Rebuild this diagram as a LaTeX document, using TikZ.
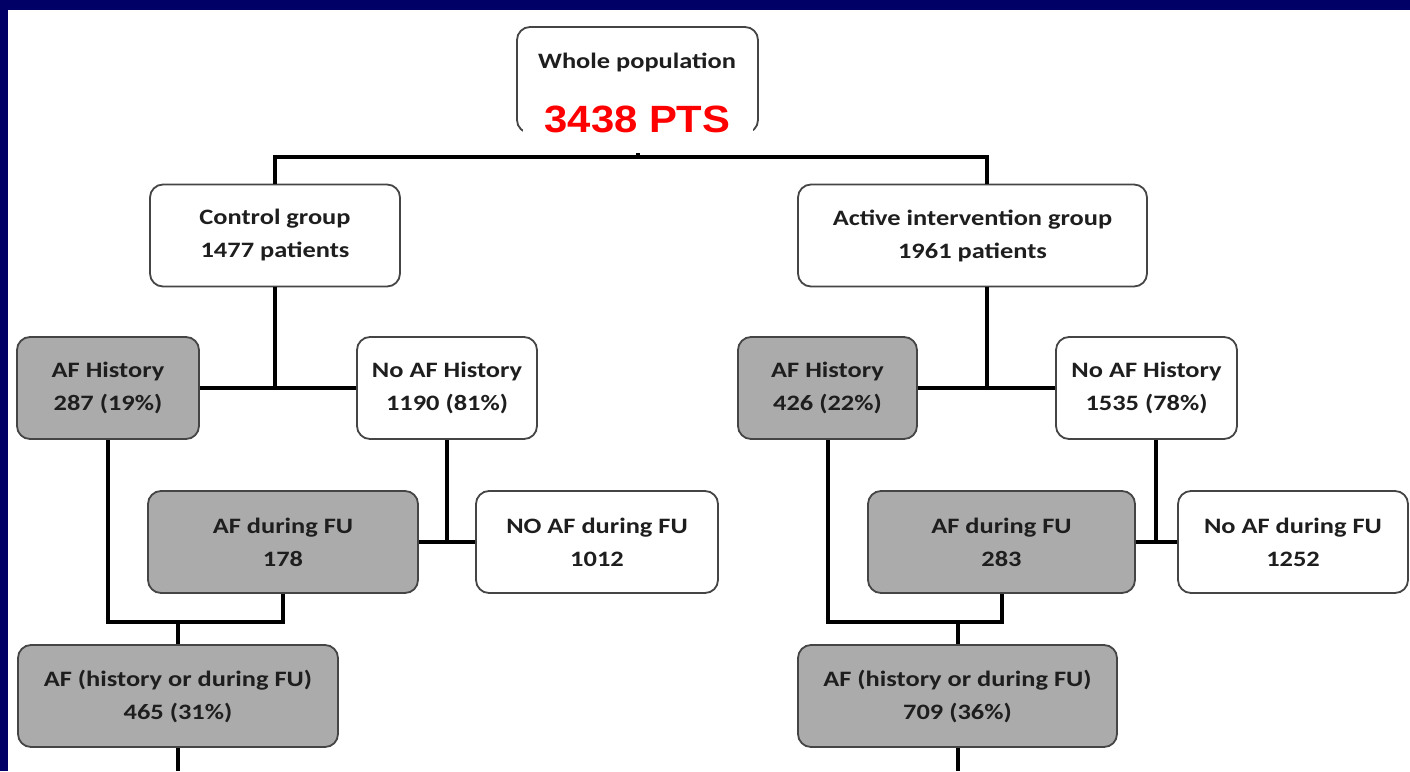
\documentclass[tikz,border=0pt]{standalone}
\usepackage{fontspec}
\setmainfont{Carlito}[FakeStretch=1.2]
\newfontfamily\redfont{Liberation Sans}[FakeStretch=1.1]
\definecolor{navy}{HTML}{000066}
\definecolor{boxgray}{HTML}{ABABAB}
\definecolor{boxline}{HTML}{454545}
\definecolor{textcol}{HTML}{1E1E1E}
\definecolor{ptsred}{RGB}{255,0,0}
\begin{document}
\begin{tikzpicture}[x=1pt,y=-1pt,
  box/.style={draw=boxline, line width=1.8pt, rounded corners=13pt, align=center,
    inner sep=0pt, text=textcol, font=\bfseries\fontsize{22}{33}\selectfont,
    minimum height=102pt},
  wbox/.style={box, fill=white},
  gbox/.style={box, fill=boxgray},
  conn/.style={line width=4pt, draw=black}]
\useasboundingbox (0,0) rectangle (1410,771);
\fill[white] (0,0) rectangle (1410,771);
\fill[navy] (0,0) rectangle (1410,10);
\fill[navy] (0,0) rectangle (8,771);

% nodes
\node[wbox, minimum width=241pt, minimum height=106pt] (whole) at (637.5,80) {};
\node[text=textcol, font=\bfseries\fontsize{22}{33}\selectfont] (wtxt) at (637,62) {Whole population};

\node[wbox, minimum width=250pt] (ctrl) at (275,235.5) {Control group\\1477 patients};
\node[wbox, minimum width=349pt] (act) at (972.5,235.5) {Active intervention group\\1961 patients};

\node[gbox, minimum width=182pt] (cafh) at (108,388) {AF History\\287 (19\%)};
\node[wbox, minimum width=180pt] (cnoafh) at (447,388) {No AF History\\1190 (81\%)};
\node[gbox, minimum width=270pt] (cafd) at (283,542) {AF during FU\\178};
\node[wbox, minimum width=242pt] (cnoafd) at (597,542) {NO AF during FU\\1012};
\node[gbox, minimum width=320pt] (cany) at (178,696) {AF (history or during FU)\\465 (31\%)};

\node[gbox, minimum width=179pt] (aafh) at (827.5,388) {AF History\\426 (22\%)};
\node[wbox, minimum width=181pt] (anoafh) at (1146.5,388) {No AF History\\1535 (78\%)};
\node[gbox, minimum width=267pt] (aafd) at (1001.5,542) {AF during FU\\283};
\node[wbox, minimum width=230pt] (anoafd) at (1293,542) {No AF during FU\\1252};
\node[gbox, minimum width=319pt] (aany) at (957.5,696) {AF (history or during FU)\\709 (36\%)};

% connectors
\coordinate (bar) at (637.5,157);
\coordinate (actbar) at (987,157);
\draw[conn] (whole.south) -- (bar);
\draw[conn] (ctrl.north) |- (actbar) -- (actbar |- act.north);

\draw[conn] (ctrl.south) -- (ctrl.south |- cafh.east);
\draw[conn] (cafh.east) -- (cnoafh.west);
\draw[conn] (cnoafh.south) -- (cnoafh.south |- cafd.east);
\draw[conn] (cafd.east) -- (cnoafd.west);
\coordinate (cm) at (178,622);
\draw[conn] (cafh.south) |- (cm) -| (cafd.south);
\draw[conn] (cm) -- (cany.north);
\coordinate (cbot) at (178,771);
\draw[conn] (cany.south) -- (cbot);

\coordinate (aj) at (987,388);
\draw[conn] (act.south -| aj) -- (aj);
\draw[conn] (aafh.east) -- (anoafh.west);
\coordinate (aj2) at (1156,542);
\draw[conn] (anoafh.south -| aj2) -- (aj2);
\draw[conn] (aafd.east) -- (anoafd.west);
\coordinate (am) at (957.5,622);
\draw[conn] (aafh.south) |- (am) -| (aafd.south);
\draw[conn] (am) -- (aany.north);
\coordinate (abot) at (957.5,771);
\draw[conn] (aany.south) -- (abot);

% red overlay
\node[fill=white, inner sep=0pt, minimum width=230pt, minimum height=55pt] (ptsbg) at (637.5,125.5) {};
\node[text=ptsred, inner sep=0pt, font=\redfont\bfseries\fontsize{38}{40}\selectfont] (pts) at (637.5,119) {3438 PTS};
\end{tikzpicture}
\end{document}
